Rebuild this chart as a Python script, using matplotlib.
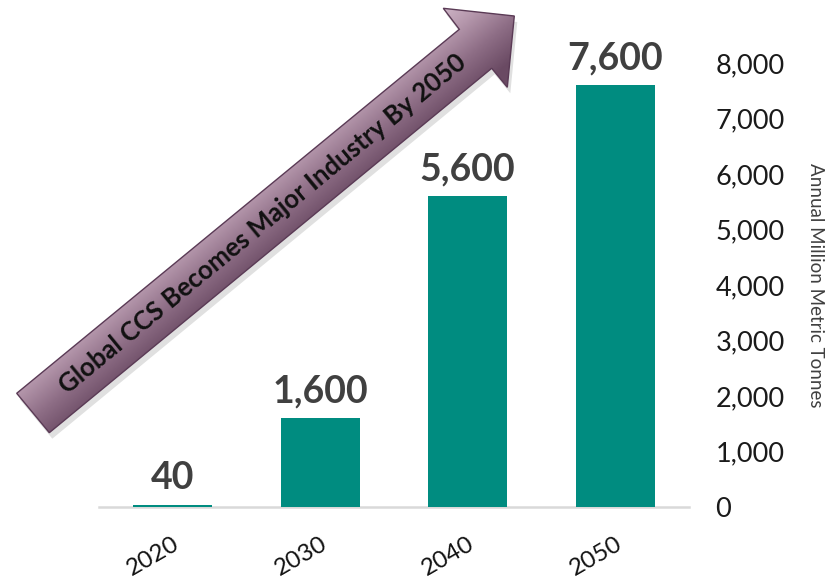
import numpy as np
import matplotlib
matplotlib.use("Agg")
import matplotlib.pyplot as plt
from matplotlib.patches import Polygon
from matplotlib.colors import LinearSegmentedColormap

plt.rcParams['font.family'] = ['Lato', 'DejaVu Sans']

# ---- data ----
years = ['2020', '2030', '2040', '2050']
values = [40, 1600, 5600, 7600]
value_labels = ['40', '1,600', '5,600', '7,600']
yticks = [0, 1000, 2000, 3000, 4000, 5000, 6000, 7000, 8000]
ytick_labels = ['0', '1,000', '2,000', '3,000', '4,000', '5,000', '6,000', '7,000', '8,000']
ylabel = 'Annual Million Metric Tonnes'
arrow_text = 'Global CCS Becomes Major Industry By 2050'

W, H = 827, 580
fig = plt.figure(figsize=(W / 100, H / 100), dpi=100)
fig.patch.set_facecolor('white')

ax = fig.add_axes([99 / W, 73 / H, 590 / W, 444 / H])
x = np.arange(len(years))
ax.bar(x, values, width=0.536, color='#008C80', zorder=2)
ax.set_xlim(-0.5, 3.5)
ax.set_ylim(0, 8000)
for s in ['top', 'left', 'right']:
    ax.spines[s].set_visible(False)
ax.spines['bottom'].set_color('#d9d9d9')
ax.spines['bottom'].set_linewidth(1.8)
ax.spines['bottom'].set_zorder(1)

ax.yaxis.tick_right()
ax.set_yticks(yticks)
ax.set_yticklabels(ytick_labels, fontsize=19.5, color='#1a1a1a')
ax.tick_params(axis='y', length=0, pad=19)

ax.set_xticks(x)
ax.set_xticklabels(years, fontsize=17.5, color='#111111', rotation=30,
                   ha='right', va='top', rotation_mode='anchor')
ax.tick_params(axis='x', length=0, pad=19)

for xi, v, t in zip(x, values, value_labels):
    ax.annotate(t, (xi, v), xytext=(0, 7), textcoords='offset points',
                ha='center', va='bottom', fontsize=27, fontweight='bold',
                color='#404040')

fig.text(815 / W, 1 - 285 / H, ylabel, rotation=270, ha='center', va='center',
         fontsize=13.5, color='#404040')

# ---- decorative arrow (pixel overlay) ----
ov = fig.add_axes([0, 0, 1, 1], zorder=5)
ov.set_xlim(0, W)
ov.set_ylim(H, 0)
ov.axis('off')
ov.patch.set_alpha(0)

pts = np.array([
    (16.7, 393.3),   # tail top
    (459.3, 29.3),   # upper junction
    (443.3, 8.3),    # upper barb
    (514.3, 16.0),   # tip
    (507.3, 87.3),   # lower barb
    (491.7, 68.3),   # lower junction
    (49.3, 432.7),   # tail bottom
])

shadow = Polygon(pts + np.array([3, 6]), closed=True, facecolor='#000000',
                 alpha=0.12, edgecolor='none')
ov.add_patch(shadow)

poly = Polygon(pts, closed=True, facecolor='none', edgecolor='#5a3a55', lw=1.0, zorder=3)
ov.add_patch(poly)

xmin, xmax, ymin, ymax = 5, 525, 0, 445
gx, gy = np.meshgrid(np.linspace(xmin, xmax, 520), np.linspace(ymin, ymax, 445))
perp = np.array([0.639, 0.769])
t = ((gx - 16.7) * perp[0] + (gy - 393.3) * perp[1]) / 50.7
t = np.clip(t, -0.6, 1.2)
t = (t + 0.6) / 1.8
cmap = LinearSegmentedColormap.from_list('mauve', ['#d4bccd', '#b597ac', '#8d6d85', '#6a4a63'])
im = ov.imshow(t, extent=(xmin, xmax, ymax, ymin), cmap=cmap, vmin=0, vmax=1,
               interpolation='bilinear', zorder=2, aspect='auto')
clip = Polygon(pts, closed=True, transform=ov.transData)
im.set_clip_path(clip)
ov.set_xlim(0, W)
ov.set_ylim(H, 0)

ov.text(263, 224, arrow_text, rotation=39.46, rotation_mode='anchor',
        ha='center', va='center', fontsize=18.5, fontweight='bold', color='#111111', zorder=4)

fig.savefig('out.png', dpi=100)
